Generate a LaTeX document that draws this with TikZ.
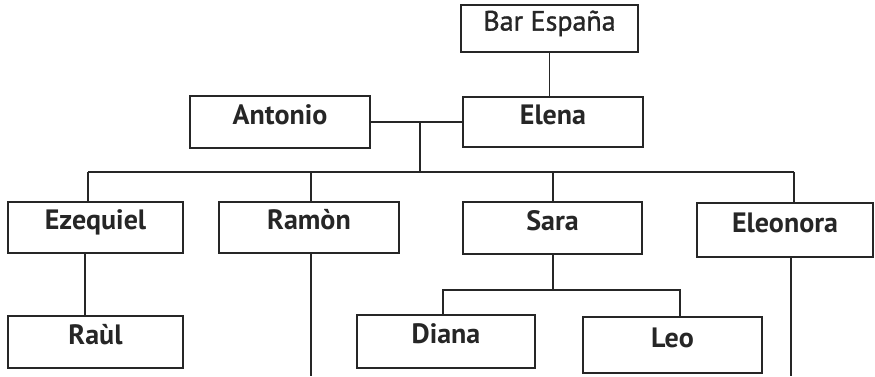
\documentclass[tikz,border=0pt]{standalone}
\usepackage{fontspec}
\setmainfont{PT Sans}
\newfontfamily\semibold[FakeBold=1.2]{PT Sans}
\begin{document}
\begin{tikzpicture}[x=1pt, y=-1pt,
  person/.style={draw=black!85, line width=1.5pt, rectangle, inner sep=0pt,
    text height=0.72em, text depth=0.3em, font=\fontsize{28}{30}\selectfont\bfseries,
    text=black!85},
  title/.style={person, font=\fontsize{28}{30}\selectfont\semibold},
  link/.style={draw=black!85, line width=1.6pt}]
\useasboundingbox[fill=white] (0,0) rectangle (875,376);

% boxes
\node[title, minimum width=177pt, minimum height=47pt] (bar) at (549.5,28.5) {Bar España};
\node[person, minimum width=180pt, minimum height=50pt] (elena) at (553,122) {Elena};
\node[person, minimum width=180pt, minimum height=52pt] (antonio) at (280,122) {Antonio};
\node[person, minimum width=175pt, minimum height=51pt] (ezequiel) at (95.5,227.5) {Ezequiel};
\node[person, minimum width=180pt, minimum height=51pt] (ramon) at (309,227.5) {Ramòn};
\node[person, minimum width=179pt, minimum height=52pt] (sara) at (552.5,228) {Sara};
\node[person, minimum width=176pt, minimum height=54pt] (eleonora) at (785,230) {Eleonora};
\node[person, minimum width=175pt, minimum height=52pt] (raul) at (95.5,342) {Raùl};
\node[person, minimum width=178pt, minimum height=53pt] (diana) at (446,341.5) {Diana};
\node[person, minimum width=179pt, minimum height=56pt] (leo) at (672.5,345) {Leo};

% junction points
\coordinate (couple) at (420,122);
\coordinate (busL) at (88,172);
\coordinate (busR) at (794,172);
\coordinate (saraJ) at (553,290);
\coordinate (kidsL) at (443,290);
\coordinate (kidsR) at (680,290);
\coordinate (ramonEnd) at (311,376);
\coordinate (eleonoraEnd) at (791,376);

% connectors
\draw[link] (bar.south) -- (bar.south |- elena.north);
\draw[link] (antonio.east) -- (elena.west);
\draw[link] (couple) -- (couple |- busL);
\draw[link] (busL) -- (busR);
\draw[link] (busL) -- (busL |- ezequiel.north);
\draw[link] (311,172) -- (311,202) coordinate (ramonTop);
\draw[link] (553,172) -- (553,202) coordinate (saraTop);
\draw[link] (busR) -- (busR |- eleonora.north);
\draw[link] (85,253) coordinate (ezBottom) -- (ezBottom |- raul.north);
\draw[link] (ramonEnd |- ramon.south) -- (ramonEnd);
\draw[link] (saraJ |- sara.south) -- (saraJ);
\draw[link] (kidsL |- diana.north) -- (kidsL) -- (kidsR) -- (kidsR |- leo.north);
\draw[link] (eleonoraEnd |- eleonora.south) -- (eleonoraEnd);
\end{tikzpicture}
\end{document}
